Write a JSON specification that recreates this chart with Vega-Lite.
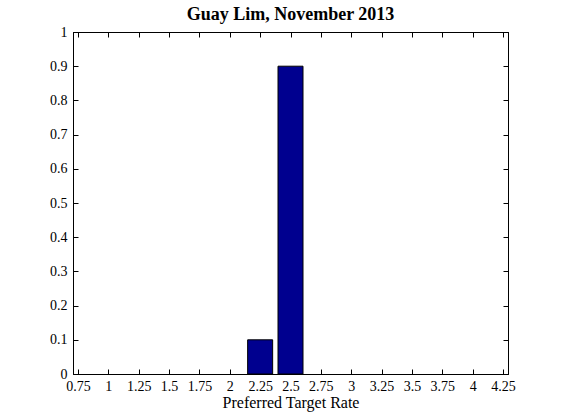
{
  "$schema": "https://vega.github.io/schema/vega-lite/v6.json",
  "width": 435,
  "height": 342,
  "autosize": "none",
  "padding": {"left": 73, "top": 32, "right": 53, "bottom": 46},
  "background": "white",
  "title": {
    "text": "Guay Lim, November 2013",
    "font": "Liberation Serif",
    "fontSize": 18,
    "fontWeight": "bold",
    "color": "black",
    "offset": 1
  },
  "config": {
    "view": {"stroke": "black", "strokeWidth": 1},
    "axis": {
      "labelFont": "Liberation Serif",
      "labelFontSize": 14,
      "labelColor": "black",
      "titleFont": "Liberation Serif",
      "titleFontSize": 16,
      "titleFontWeight": "normal",
      "titleColor": "black",
      "domainColor": "black",
      "tickColor": "black",
      "grid": false,
      "tickSize": -5
    }
  },
  "data": {
    "values": [
      {"rate": 2.25, "share": 0.1},
      {"rate": 2.5, "share": 0.9}
    ]
  },
  "layer": [
    {
      "mark": {"type": "bar", "size": 25, "fill": "#00008f", "stroke": "black", "strokeWidth": 1},
      "encoding": {
        "x": {
          "field": "rate", "type": "quantitative",
          "scale": {"domain": [0.75, 4.25], "nice": false, "zero": false},
          "axis": {"orient": "bottom", "values": [0.75,1,1.25,1.5,1.75,2,2.25,2.5,2.75,3,3.25,3.5,3.75,4,4.25], "format": ".3~g", "title": "Preferred Target Rate", "labelPadding": 10, "titlePadding": 1, "labelFlush": false, "labelOverlap": false}
        },
        "y": {
          "field": "share", "type": "quantitative",
          "scale": {"domain": [0, 1], "nice": false},
          "axis": {"orient": "left", "values": [0,0.1,0.2,0.3,0.4,0.5,0.6,0.7,0.8,0.9,1], "format": ".2~g", "title": null, "labelPadding": 11, "labelFlush": false, "labelOverlap": false}
        }
      }
    },
    {
      "mark": {"type": "point", "opacity": 0},
      "encoding": {
        "x": {
          "field": "rate", "type": "quantitative",
          "axis": {"orient": "top", "values": [0.75,1,1.25,1.5,1.75,2,2.25,2.5,2.75,3,3.25,3.5,3.75,4,4.25], "labels": false, "title": null}
        },
        "y": {
          "field": "share", "type": "quantitative",
          "axis": {"orient": "right", "values": [0,0.1,0.2,0.3,0.4,0.5,0.6,0.7,0.8,0.9,1], "labels": false, "title": null}
        }
      }
    }
  ],
  "resolve": {"axis": {"x": "independent", "y": "independent"}}
}
